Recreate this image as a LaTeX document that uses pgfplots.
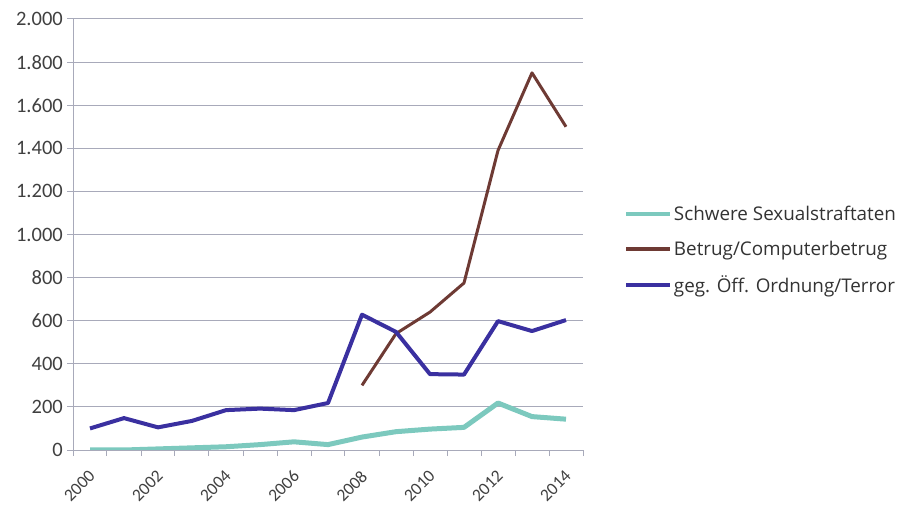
\documentclass[border=0pt]{standalone}
\usepackage{fontspec}
\setmainfont{Carlito}
\newfontfamily\legfont{Open Sans}
\usepackage{pgfplots}
\pgfplotsset{compat=1.18}

\definecolor{cteal}{RGB}{124,201,190}
\definecolor{cbrown}{RGB}{110,58,52}
\definecolor{cblue}{RGB}{58,48,160}
\definecolor{cgrid}{RGB}{168,170,186}

\begin{document}
\begin{tikzpicture}
\path[use as bounding box] (0,0) rectangle (898bp,510bp);
\begin{axis}[
  at={(73bp,60bp)}, anchor=south west,
  scale only axis,
  width=510bp, height=431bp,
  xmin=1999.5, xmax=2014.5,
  ymin=0, ymax=2000,
  axis x line*=bottom,
  axis y line*=left,
  axis line style={cgrid, line width=1pt},
  xtick={2000,2002,...,2014},
  major x tick style={draw=none},
  minor xtick={1999.5,2000.5,...,2014.5},
  minor x tick style={cgrid, line width=1pt},
  minor tick length=6bp,
  ytick={0,200,...,2000},
  major y tick style={cgrid, line width=1pt},
  major tick length=6bp,
  tick align=outside,
  ymajorgrids,
  grid style={cgrid, line width=1pt},
  /pgf/number format/assume math mode=true,
  x tick label style={/pgf/number format/1000 sep={}, rotate=45, anchor=north east,
    font=\fontsize{17.5bp}{20bp}\selectfont\color{black!75}, inner sep=0pt,
    xshift=-10.7bp, yshift=-7.8bp},
  y tick label style={/pgf/number format/1000 sep={.}, font=\fontsize{20.5bp}{24bp}\selectfont\color{black!75}, inner sep=4bp},
  legend style={at={(1.08,0.464)}, anchor=west, draw=none, fill=none,
    font=\legfont\fontsize{18.85bp}{22bp}\selectfont\color{black!80},
    row sep=15bp, inner sep=0pt},
  legend cell align=left,
  legend image code/.code={\draw[#1, line width=4bp] (0bp,0bp) -- (44bp,0bp);},
  every legend image post/.style={xshift=-9bp},
]
\addplot[cteal, line width=5bp, line join=round] coordinates {
  (2000,0) (2001,0) (2002,5) (2003,10) (2004,15) (2005,25) (2006,38)
  (2007,25) (2008,60) (2009,85) (2010,97) (2011,105) (2012,218)
  (2013,155) (2014,143)};
\addlegendentry{Schwere Sexualstraftaten}
\addplot[cbrown, line width=3bp, line join=round] coordinates {
  (2008,300) (2009,540) (2010,640) (2011,775) (2012,1390)
  (2013,1750) (2014,1500)};
\addlegendentry{Betrug/Computerbetrug}
\addplot[cblue, line width=4bp, line join=round] coordinates {
  (2000,100) (2001,148) (2002,105) (2003,135) (2004,185) (2005,192)
  (2006,185) (2007,218) (2008,628) (2009,548) (2010,352) (2011,350)
  (2012,598) (2013,552) (2014,603)};
\addlegendentry{geg. Öff. Ordnung/Terror}
\end{axis}
\end{tikzpicture}
\end{document}
